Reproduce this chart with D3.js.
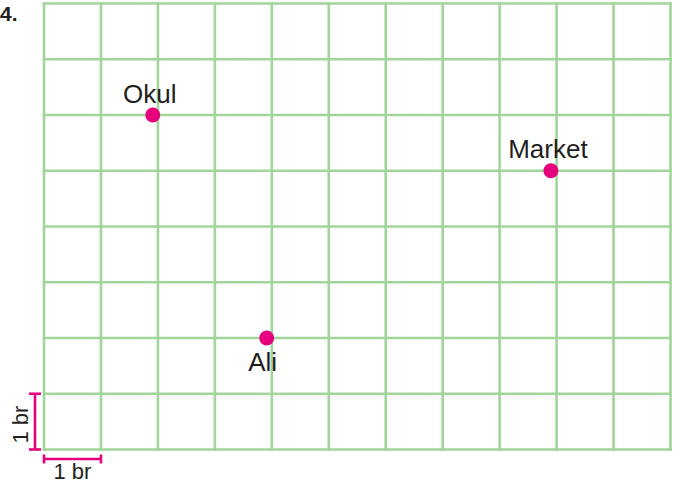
<!DOCTYPE html>
<html>
<head>
<meta charset="utf-8">
<script src="https://cdn.jsdelivr.net/npm/d3@7"></script>
<style>
  html, body { margin: 0; padding: 0; background: #fff; }
  svg { display: block; }
</style>
</head>
<body>
<script>
// grid size (in "br" units)
const cols = 11;
const rows = 8;

// places on the grid
const names = ["Okul", "Market", "Ali"];
const xs = [1.91, 8.9, 3.91];
const ys = [6, 5, 2];
const labelPos = ["above", "above", "below"];

const scaleLabel = "1 br";
const questionNo = "4.";

const width = 687, height = 485;
const green = "#a0d69a";
const pink = "#e6007e";

const x = d3.scaleLinear().domain([0, cols]).range([44, 670.5]);
const y = d3.scaleLinear().domain([0, rows]).range([449.5, 3.5]);

const svg = d3.select("body").append("svg")
    .attr("width", width)
    .attr("height", height);

// grid
const grid = svg.append("g")
    .attr("stroke", green)
    .attr("stroke-width", 2.6);

grid.selectAll("line.v")
  .data(d3.range(cols + 1))
  .join("line")
    .attr("class", "v")
    .attr("x1", d => x(d)).attr("x2", d => x(d))
    .attr("y1", y(rows) - 1.3).attr("y2", y(0) + 1.3);

grid.selectAll("line.h")
  .data(d3.range(rows + 1))
  .join("line")
    .attr("class", "h")
    .attr("y1", d => y(d)).attr("y2", d => y(d))
    .attr("x1", x(0) - 1.3).attr("x2", x(cols) + 1.3);

// question number
svg.append("text")
    .attr("x", 0)
    .attr("y", 21)
    .attr("font-family", "Liberation Sans, Arial, sans-serif")
    .attr("font-weight", "bold")
    .attr("font-size", 21)
    .attr("fill", "#231f20")
    .text(questionNo);

// points
const pts = names.map((n, i) => ({name: n, x: xs[i], y: ys[i], pos: labelPos[i]}));

const pg = svg.append("g");
pg.selectAll("circle")
  .data(pts)
  .join("circle")
    .attr("cx", d => x(d.x))
    .attr("cy", d => y(d.y))
    .attr("r", 7.5)
    .attr("fill", pink);

pg.selectAll("text")
  .data(pts)
  .join("text")
    .attr("x", d => x(d.x) + (d.pos === "below" ? -4 : -3))
    .attr("y", d => d.pos === "below" ? y(d.y) + 33 : y(d.y) - 12.5)
    .attr("text-anchor", "middle")
    .attr("font-family", "Liberation Sans, Arial, sans-serif")
    .attr("font-size", 26)
    .attr("fill", "#231f20")
    .text(d => d.name);

// scale bars
const bar = svg.append("g")
    .attr("stroke", pink)
    .attr("stroke-width", 2.6)
    .attr("fill", "none");

const vx = 35;
bar.append("line").attr("x1", vx).attr("x2", vx).attr("y1", y(1)).attr("y2", y(0));
bar.append("line").attr("x1", vx - 6).attr("x2", vx + 6).attr("y1", y(1)).attr("y2", y(1));
bar.append("line").attr("x1", vx - 6).attr("x2", vx + 6).attr("y1", y(0)).attr("y2", y(0));

const hy = 459;
bar.append("line").attr("x1", x(0)).attr("x2", x(1)).attr("y1", hy).attr("y2", hy);
bar.append("line").attr("x1", x(0)).attr("x2", x(0)).attr("y1", hy - 4.5).attr("y2", hy + 4.5);
bar.append("line").attr("x1", x(1)).attr("x2", x(1)).attr("y1", hy - 4.5).attr("y2", hy + 4.5);

svg.append("text")
    .attr("transform", `translate(28,${(y(0) + y(1)) / 2 + 3}) rotate(-90)`)
    .attr("text-anchor", "middle")
    .attr("font-family", "Liberation Sans, Arial, sans-serif")
    .attr("font-size", 22)
    .attr("fill", "#231f20")
    .text(scaleLabel);

svg.append("text")
    .attr("x", (x(0) + x(1)) / 2)
    .attr("y", 479)
    .attr("text-anchor", "middle")
    .attr("font-family", "Liberation Sans, Arial, sans-serif")
    .attr("font-size", 22)
    .attr("fill", "#231f20")
    .text(scaleLabel);
</script>
</body>
</html>
